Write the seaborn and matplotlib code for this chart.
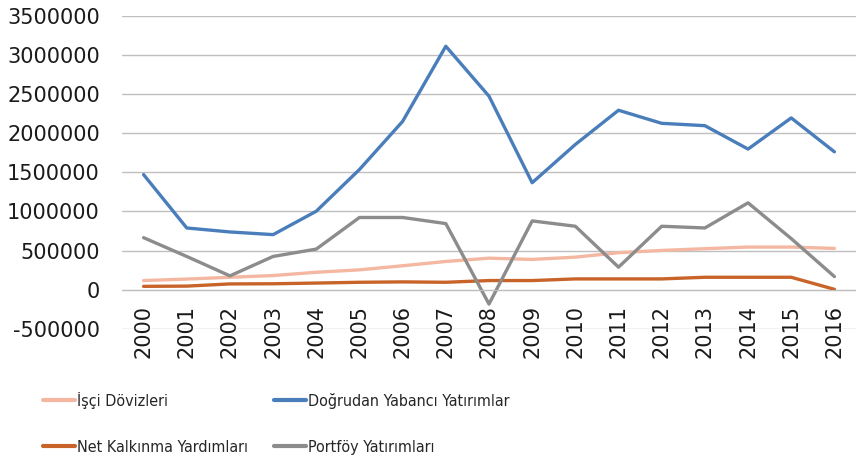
import pandas as pd
import matplotlib.pyplot as plt
import seaborn as sns
from matplotlib.font_manager import FontProperties

years = list(range(2000, 2017))

isci_dovizleri = [116000, 135000, 158000, 180000, 222000, 253000, 305000, 360000, 402000,
                  386000, 415000, 472000, 501000, 523000, 544000, 544000, 527000]
dogrudan_yatirim = [1470000, 788000, 737000, 703000, 1002000, 1535000, 2150000, 3110000, 2472000,
                    1366000, 1855000, 2292000, 2125000, 2095000, 1796000, 2194000, 1761000]
net_kalkinma = [42000, 45000, 73000, 75000, 84000, 94000, 99000, 94000, 116000,
                116000, 137000, 137000, 137000, 158000, 158000, 158000, 4000]
portfoy_yatirim = [664000, 424000, 176000, 424000, 518000, 922000, 922000, 844000, -184000,
                   878000, 810000, 287000, 810000, 788000, 1109000, 652000, 167000]

series_names = ['İşçi Dövizleri', 'Doğrudan Yabancı Yatırımlar',
                'Net Kalkınma Yardımları', 'Portföy Yatırımları']
colors = ['#F4B8A2', '#4A7EBB', '#C8642A', '#8C8C8C']
y_ticks = list(range(-500000, 3500001, 500000))

frames = []
for name, vals in zip(series_names, [isci_dovizleri, dogrudan_yatirim, net_kalkinma, portfoy_yatirim]):
    frames.append(pd.DataFrame({'year': years, 'value': vals, 'series': name}))
df = pd.concat(frames, ignore_index=True)

sns.set_style('white')
plt.rcParams['font.family'] = ['DejaVu Sans']

fig, ax = plt.subplots(figsize=(8.56, 4.69), dpi=100)
fig.subplots_adjust(left=0.1425, right=1.0, top=0.9665, bottom=0.299)

sns.lineplot(data=df, x='year', y='value', hue='series', hue_order=series_names,
             palette=colors, linewidth=2.4, ax=ax)

ax.set_xlim(1999.5, 2016.5)
ax.set_ylim(-500000, 3500000)
ax.set_xlabel('')
ax.set_ylabel('')
ax.grid(axis='y', color='#BFBFBF', linewidth=1)
ax.set_axisbelow(True)
for s in ['top', 'right', 'left']:
    ax.spines[s].set_visible(False)
# x axis sits on the zero line, like Excel does it
ax.spines['bottom'].set_position(('data', 0))
ax.spines['bottom'].set_color('#BFBFBF')
ax.set_yticks(y_ticks)
ax.set_yticklabels([str(v) for v in y_ticks])
ax.set_xticks(years)
ax.set_xticklabels([str(y) for y in years])
ax.tick_params(axis='y', length=0, pad=16, labelsize=15, colors='#1a1a1a')
ax.tick_params(axis='x', length=0, pad=11, labelsize=15, colors='#1a1a1a', labelrotation=90)

handles, labels = ax.get_legend_handles_labels()
ax.get_legend().remove()
hmap = dict(zip(labels, handles))
order = ['İşçi Dövizleri', 'Net Kalkınma Yardımları', 'Doğrudan Yabancı Yatırımlar', 'Portföy Yatırımları']
leg_font = FontProperties(family='DejaVu Sans', stretch='condensed', size=11.5)
leg = fig.legend([hmap[o] for o in order], order, loc='upper left', bbox_to_anchor=(0.041, 0.182),
                 ncol=2, frameon=False, handlelength=2.0, handletextpad=0.1, columnspacing=1.65,
                 labelspacing=1.95, borderpad=0, prop=leg_font)
for h in leg.legend_handles:
    h.set_linewidth(3)

fig.savefig('out.png', dpi=100)
